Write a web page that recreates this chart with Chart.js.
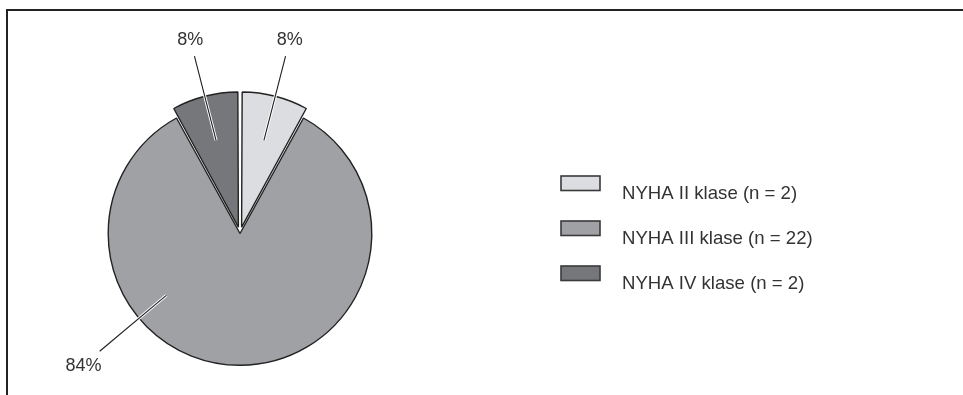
<!DOCTYPE html>
<html>
<head>
<meta charset="utf-8">
<script src="https://cdn.jsdelivr.net/npm/chart.js@4.4.0/dist/chart.umd.min.js"></script>
<style>
  html, body { margin: 0; padding: 0; background: #fff; }
  #wrap { width: 963px; height: 395px; }
</style>
</head>
<body>
<div id="wrap"><canvas id="grafica" width="963" height="395"></canvas></div>
<script>
/* ===============================
   DATOS
=============================== */
const clases = ["NYHA II klase", "NYHA III klase", "NYHA IV klase"];
const pacientes = [2, 22, 2];
const porcentajes = [8, 84, 8];
const colores = ["#dcdde0", "#a0a1a5", "#76777b"];

/* ===============================
   PLUGIN: marco, líneas guía, leyenda
=============================== */
const marcoYEtiquetas = {
  id: "marcoYEtiquetas",
  beforeDraw(chart) {
    const ctx = chart.ctx;
    ctx.save();
    ctx.strokeStyle = "#222";
    ctx.lineWidth = 2;
    ctx.beginPath();
    ctx.moveTo(7, chart.height + 2);
    ctx.lineTo(7, 10);
    ctx.lineTo(chart.width + 2, 10);
    ctx.stroke();
    ctx.restore();
  },
  afterDatasetsDraw(chart, args, opts) {
    const ctx = chart.ctx;
    const arcs = chart.getDatasetMeta(0).data;
    ctx.save();
    ctx.font = opts.fuente;
    ctx.fillStyle = opts.colorTexto;
    ctx.textAlign = "center";
    ctx.textBaseline = "middle";
    arcs.forEach((arc, i) => {
      const p = arc.getProps(["x", "y", "outerRadius", "startAngle", "endAngle"]);
      const ang = opts.angulos[i] == null
        ? (p.startAngle + p.endAngle) / 2
        : (opts.angulos[i] - 90) * Math.PI / 180;
      const c = Math.cos(ang), s = Math.sin(ang);
      const r1 = p.outerRadius * opts.radioInterno;
      const r2 = p.outerRadius * opts.radioExterno;
      const r3 = p.outerRadius * opts.radioTexto[i];

      // línea guía con borde blanco
      [["#fff", 3], ["#1e1e1e", 1.1]].forEach(([color, ancho]) => {
        ctx.strokeStyle = color;
        ctx.lineWidth = ancho;
        ctx.beginPath();
        ctx.moveTo(p.x + c * r1, p.y + s * r1);
        ctx.lineTo(p.x + c * r2, p.y + s * r2);
        ctx.stroke();
      });

      ctx.fillText(`${porcentajes[i]}%`, p.x + c * r3, p.y + s * r3 + 1);
    });
    ctx.restore();
  },
  afterDraw(chart, args, opts) {
    const ctx = chart.ctx;
    const ley = opts.leyenda;
    ctx.save();
    ctx.font = opts.fuenteLeyenda;
    ctx.textAlign = "left";
    ctx.textBaseline = "alphabetic";
    clases.forEach((clase, i) => {
      const top = ley.y + i * ley.paso;
      ctx.fillStyle = colores[i];
      ctx.fillRect(ley.x, top, ley.ancho, ley.alto);
      ctx.strokeStyle = "#3a3a3a";
      ctx.lineWidth = 1.6;
      ctx.strokeRect(ley.x, top, ley.ancho, ley.alto);
      ctx.fillStyle = opts.colorTexto;
      ctx.fillText(`${clase} (n = ${pacientes[i]})`, ley.xTexto, top + ley.base);
    });
    ctx.restore();
  }
};

/* ===============================
   GRÁFICA
=============================== */
new Chart(document.getElementById("grafica"), {
  type: "pie",
  data: {
    labels: clases,
    datasets: [{
      data: porcentajes,
      backgroundColor: colores,
      borderColor: "#222",
      borderWidth: 1.4,
      offset: [26, 0, 26],
      hoverOffset: 0
    }]
  },
  options: {
    responsive: false,
    animation: false,
    devicePixelRatio: 1,
    events: [],
    layout: { padding: { left: 94, right: 577, top: 88, bottom: 16 } },
    plugins: {
      legend: { display: false },
      tooltip: { enabled: false },
      marcoYEtiquetas: {
        fuente: "18px 'Liberation Sans', Arial, sans-serif",
        fuenteLeyenda: "18.6px 'Liberation Sans', Arial, sans-serif",
        colorTexto: "#333",
        angulos: [null, 230, null],
        radioInterno: 0.73,
        radioExterno: 1.39,
        radioTexto: [1.52, 1.55, 1.52],
        leyenda: { x: 561, y: 176, paso: 45, ancho: 39, alto: 14.5, xTexto: 622, base: 22.5 }
      }
    }
  },
  plugins: [marcoYEtiquetas]
});
</script>
</body>
</html>
